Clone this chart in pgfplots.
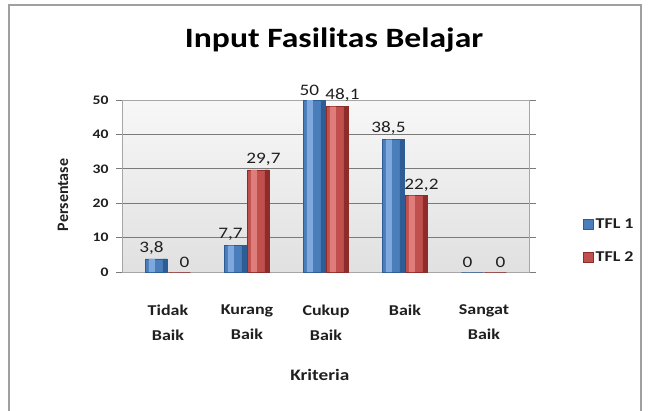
\documentclass[border=0pt]{standalone}
\usepackage{pgfplots}
\pgfplotsset{compat=1.18}
\usepackage{pgfplotstable}
\usepackage{fontspec}
\setmainfont{Carlito}[FakeStretch=1.2]
\newfontfamily\plainfont{Carlito}
\definecolor{bluebase}{HTML}{4A7EBB}
\definecolor{bluedark}{HTML}{2E5C94}
\definecolor{bluelight}{HTML}{7FA9DE}
\definecolor{redbase}{HTML}{C0504D}
\definecolor{reddark}{HTML}{8E2C29}
\definecolor{redlight}{HTML}{DE7D7A}
\definecolor{framegray}{HTML}{A0A0A0}
\definecolor{gridgray}{HTML}{7A7A7A}
\definecolor{txt}{HTML}{1F1F1F}
\pgfplotsset{/pgf/number format/assume math mode=true}
\pgfplotstableread{
x tfla tflb
0 3.8  0
1 7.7  29.7
2 50   48.1
3 38.5 22.2
4 0    0
}\datatable
\begin{document}
\begin{tikzpicture}
\useasboundingbox (0,0) rectangle (648pt,410pt);
\fill[white] (0,0) rectangle (648pt,410pt);
\draw[framegray, line width=1.5pt] (9pt,-10pt) rectangle (641pt,405pt);
\begin{axis}[
  at={(122pt,138pt)}, anchor=south west,
  x=79pt, y=3.44pt,
  xmin=-0.582, xmax=4.58, ymin=0, ymax=50,
  ybar=1pt, bar width=22pt,
  legend image code/.code={\draw[#1, line width=0.6pt] (0pt,-5pt) rectangle (10pt,5pt);},
  axis background/.style={top color=gray!6, bottom color=gray!24},
  axis line style={draw=gray!70, line width=0.8pt},
  ymajorgrids, grid style={gridgray, line width=0.8pt},
  ytick={0,10,20,30,40,50},
  tick align=outside, major tick length=6pt,
  ytick style={draw=gridgray, line width=0.8pt},
  xtick={0,1,2,3,4},
  xtick style={draw=none},
  xticklabels={{Tidak\\Baik},{Kurang\\Baik},{Cukup\\Baik},{Baik},{Sangat\\Baik}},
  xticklabel style={align=center, font=\fontsize{15}{25}\selectfont\bfseries, text=txt, yshift=-23pt},
  yticklabel style={font=\fontsize{13}{15}\selectfont\bfseries, text=txt, xshift=-4pt},
  /pgf/number format/.cd, use comma, fixed, precision=1, /pgfplots/.cd,
  nodes near coords style={font=\fontsize{16}{18}\selectfont, text=txt, yshift=1pt},
  title={Input Fasilitas Belajar},
  title style={font=\fontsize{28}{30}\selectfont\bfseries, text=black, at={(axis description cs:0.52,1.273)}, anchor=base},
  xlabel={Kriteria},
  xlabel style={font=\fontsize{16}{18}\selectfont\bfseries, text=txt, at={(axis description cs:0.485,-0.628)}, anchor=base},
  ylabel={\plainfont\bfseries Persentase},
  ylabel style={font=\fontsize{16}{18}\selectfont, text=txt, at={(axis description cs:-0.1446,0.448)}, anchor=center},
  legend style={at={(axis description cs:1.13,0.18)}, anchor=west, draw=none, fill=none,
    font=\fontsize{15}{17}\selectfont\bfseries, text=txt, row sep=18pt, inner xsep=0pt},
  legend cell align=left,
]
% main bars
\addplot[draw=bluedark, fill=bluebase, bar shift=-11.5pt, nodes near coords,
  nodes near coords style={xshift=-5pt}]
  table[x=x, y=tfla] {\datatable};
\addplot[draw=reddark, fill=redbase, bar shift=11.5pt, nodes near coords,
  nodes near coords style={xshift=5pt}]
  table[x=x, y=tflb] {\datatable};
% cylinder highlights (same data)
\addplot[draw=none, fill=bluelight, bar width=6pt, bar shift=-16pt, forget plot]
  table[x=x, y=tfla] {\datatable};
\addplot[draw=none, fill=bluedark, bar width=4pt, bar shift=-3pt, forget plot]
  table[x=x, y=tfla] {\datatable};
\addplot[draw=none, fill=redlight, bar width=6pt, bar shift=7pt, forget plot]
  table[x=x, y=tflb] {\datatable};
\addplot[draw=none, fill=reddark, bar width=4pt, bar shift=20pt, forget plot]
  table[x=x, y=tflb] {\datatable};
\legend{TFL 1, TFL 2}
\end{axis}
\end{tikzpicture}
\end{document}
